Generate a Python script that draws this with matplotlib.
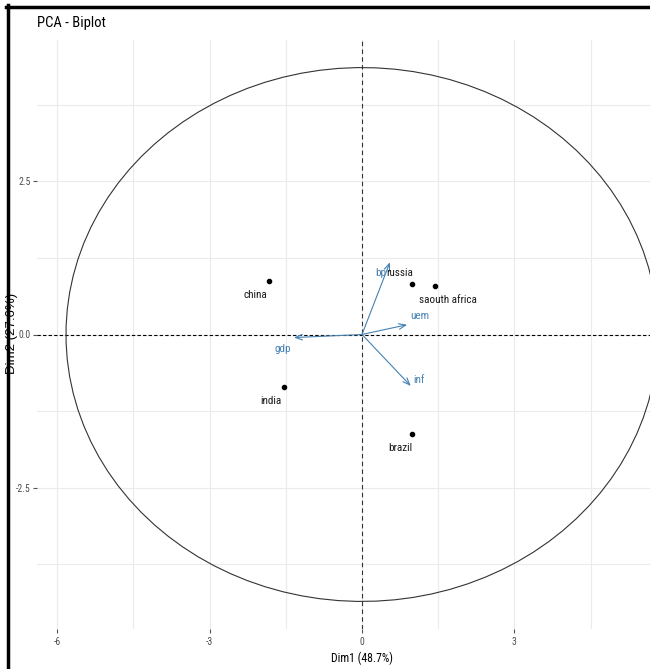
import matplotlib.pyplot as plt
import numpy as np
from matplotlib.lines import Line2D

plt.rcParams['font.family'] = ['Roboto Condensed', 'Liberation Sans', 'DejaVu Sans']

# individuals (countries)
countries = ["china", "russia", "saouth africa", "india", "brazil"]
dim1 = [-1.84, 0.98, 1.44, -1.53, 0.98]
dim2 = [0.88, 0.83, 0.80, -0.85, -1.63]

# variables (arrows)
variables = ["bp", "uem", "gdp", "inf"]
var_x = [0.55, 0.89, -1.34, 0.96]
var_y = [1.18, 0.16, -0.05, -0.84]

# label offsets in data units (repel style)
lab_dx = [-0.26, -0.24, 0.26, -0.27, -0.23]
lab_dy = [-0.23, 0.17, -0.23, -0.23, -0.23]
var_lab = [(0.37, 1.01), (1.14, 0.31), (-1.57, -0.24), (1.12, -0.75)]

circle_rx = 5.83
circle_ry = 4.36

fig = plt.figure(figsize=(6.5, 6.69), dpi=100)
W, H = 650, 669
# panel spans past the right edge (cropped screenshot)
ax = fig.add_axes([37 / W, 1 - 629 / H, 650 / W, 589 / H])
ax.set_xlim(-6.4, 6.4)
ax.set_ylim(-4.81, 4.81)

for s in ax.spines.values():
    s.set_visible(False)

ax.set_xticks([-6, -3, 0, 3])
ax.set_xticklabels(["-6", "-3", "0", "3"])
ax.set_yticks([-2.5, 0, 2.5])
ax.set_yticklabels(["-2.5", "0.0", "2.5"])
ax.set_xticks([-4.5, -1.5, 1.5, 4.5], minor=True)
ax.set_yticks([-3.75, -1.25, 1.25, 3.75], minor=True)
ax.grid(True, which='both', color='#EBEBEB', linewidth=0.8)
ax.axvline(6, color='#EBEBEB', linewidth=0.8, zorder=0)
ax.set_axisbelow(True)
ax.tick_params(which='major', length=3, width=0.8, color='#555555',
               labelsize=7, labelcolor='#4D4D4D', pad=1.5)
ax.tick_params(axis='x', pad=3)
ax.tick_params(which='minor', length=0)

ax.axhline(0, color='black', linestyle=(0, (3, 2)), linewidth=0.8, zorder=1)
ax.axvline(0, color='#333333', linestyle=(0, (4, 3)), linewidth=0.8, zorder=1)

t = np.linspace(0, 2 * np.pi, 100)
ax.plot(circle_rx * np.cos(t), circle_ry * np.sin(t), color='#333333', linewidth=0.8)

for i in range(len(variables)):
    ax.annotate("", xy=(var_x[i], var_y[i]), xytext=(0, 0),
                arrowprops=dict(arrowstyle='->,head_length=0.5,head_width=0.2',
                                color='#4682B4', linewidth=0.8, shrinkA=0, shrinkB=0))
    ax.text(var_lab[i][0], var_lab[i][1], variables[i], color='#4682B4',
            fontsize=8, ha='center', va='center')

ax.scatter(dim1, dim2, s=9, color='black', zorder=3)
for i in range(len(countries)):
    ax.text(dim1[i] + lab_dx[i], dim2[i] + lab_dy[i], countries[i], color='#1a1a1a',
            fontsize=8, ha='center', va='center')

ax.set_xlabel("Dim1 (48.7%)", fontsize=8.5, labelpad=3)
fig.text(12.5 / W, 1 - 333 / H, "Dim2 (27.6%)", fontsize=9.5, rotation=90,
         ha='center', va='center', family=['Liberation Sans', 'DejaVu Sans'])
fig.text(37 / W, 1 - 23 / H, "PCA - Biplot", fontsize=10.5, ha='left', va='center')

# screenshot frame
fig.add_artist(Line2D([7.5 / W, 7.5 / W], [0, 1 - 5 / H], color='black', linewidth=2.5,
                      transform=fig.transFigure))
fig.add_artist(Line2D([6 / W, 1], [1 - 6.5 / H, 1 - 6.5 / H], color='black', linewidth=2.5,
                      transform=fig.transFigure))

fig.savefig("out.png", dpi=100)
